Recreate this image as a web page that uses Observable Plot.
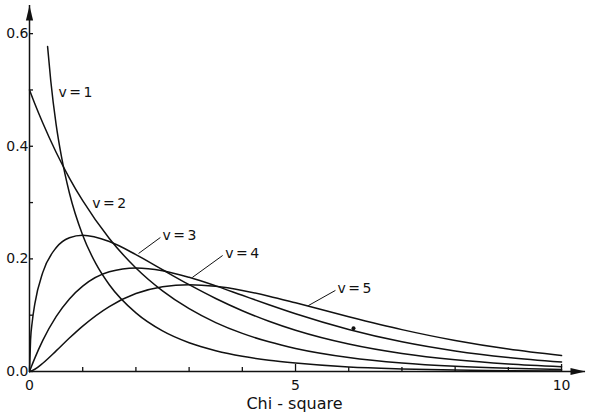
<!DOCTYPE html>
<html>
<head>
<meta charset="utf-8">
<script src="https://cdn.jsdelivr.net/npm/d3@7"></script>
<script src="https://cdn.jsdelivr.net/npm/@observablehq/plot@0.6"></script>
<style>
  html, body { margin: 0; padding: 0; background: #fff; }
  #chart svg { display: block; }
</style>
</head>
<body>
<div id="chart"></div>
<script>
// x samples shared by v = 2..5
const xs = [0, 0.02, 0.05, 0.1, 0.25, 0.5, 0.75, 1, 1.5, 2, 2.5, 3, 3.5, 4, 4.5, 5, 6, 7, 8, 9, 10];
const v2 = [0.5, 0.495, 0.4877, 0.4756, 0.4413, 0.3894, 0.3436, 0.3033, 0.2362, 0.1839, 0.1433, 0.1116, 0.0869, 0.0677, 0.0527, 0.0410, 0.0249, 0.0151, 0.0092, 0.0056, 0.0034];
const v3 = [0, 0.0559, 0.0870, 0.1200, 0.1760, 0.2197, 0.2375, 0.2420, 0.2308, 0.2076, 0.1807, 0.1542, 0.1297, 0.1080, 0.0892, 0.0732, 0.0487, 0.0319, 0.0207, 0.0133, 0.0085];
const v4 = [0, 0.0050, 0.0122, 0.0238, 0.0552, 0.0974, 0.1289, 0.1516, 0.1771, 0.1839, 0.1791, 0.1673, 0.1521, 0.1353, 0.1186, 0.1026, 0.0747, 0.0528, 0.0366, 0.0250, 0.0168];
const v5 = [0, 0.0004, 0.0015, 0.0040, 0.0147, 0.0366, 0.0594, 0.0807, 0.1154, 0.1384, 0.1506, 0.1542, 0.1513, 0.1440, 0.1338, 0.1220, 0.0973, 0.0744, 0.0551, 0.0399, 0.0283];
// v = 1 has its own x samples (starts off the top)
const xs1 = [0.34, 0.4, 0.5, 0.6, 0.75, 1, 1.25, 1.5, 2, 2.5, 3, 3.5, 4, 4.5, 5, 6, 7, 8, 9, 10];
const v1 = [0.577, 0.516, 0.439, 0.382, 0.317, 0.242, 0.191, 0.154, 0.104, 0.072, 0.051, 0.037, 0.027, 0.020, 0.015, 0.008, 0.0046, 0.0026, 0.0015, 0.0009];

// curve labels
const labelText = ["v = 1", "v = 2", "v = 3", "v = 4", "v = 5"];
const labelX = [0.545, 1.18, 2.50, 3.68, 5.79];
const labelY = [0.4955, 0.298, 0.2415, 0.2104, 0.1465];
// leader lines (from curve to label) for v = 3, 4, 5
const leaderX1 = [2.05, 3.06, 5.24];
const leaderY1 = [0.2096, 0.167, 0.117];
const leaderX2 = [2.46, 3.63, 5.75];
const leaderY2 = [0.238, 0.206, 0.144];
// a stray dot in the original print
const speckX = [6.09];
const speckY = [0.077];

// ticks
const yTicksAll = [0, 0.1, 0.2, 0.3, 0.4, 0.5, 0.6];
const yTickLabels = [0, 0.2, 0.4, 0.6];
const xTicksMinor = [1, 2, 3, 4, 6, 7, 8, 9];
const xTicksMajor = [5, 10];
const xTickLabels = [0, 5, 10];
const xTitle = "Chi - square";

const xDomain = [0, 10.45];
const yDomain = [0, 0.65];

const series = [
  {name: "v=1", x: xs1, y: v1},
  {name: "v=2", x: xs, y: v2},
  {name: "v=3", x: xs, y: v3},
  {name: "v=4", x: xs, y: v4},
  {name: "v=5", x: xs, y: v5}
];
const curveRows = series.flatMap(s => s.x.map((x, i) => ({series: s.name, x, y: s.y[i]})));
const labels = labelText.map((t, i) => ({t, x: labelX[i], y: labelY[i]}));
const leaders = leaderX1.map((x, i) => ({x1: x, y1: leaderY1[i], x2: leaderX2[i], y2: leaderY2[i]}));

const arrowUp = {
  draw(ctx) {
    ctx.moveTo(0, 0);
    ctx.lineTo(-3.6, 15);
    ctx.lineTo(3.6, 15);
    ctx.closePath();
  }
};

const chart = Plot.plot({
  width: 589,
  height: 417,
  marginTop: 5,
  marginRight: 4,
  marginBottom: 46,
  marginLeft: 29,
  style: {fontFamily: "DejaVu Sans", fontSize: "14px", background: "#fff", color: "#111"},
  x: {domain: xDomain, axis: null},
  y: {domain: yDomain, axis: null},
  marks: [
    // axis lines
    Plot.ruleX([0], {stroke: "#111", strokeWidth: 1.5}),
    Plot.ruleY([0], {stroke: "#111", strokeWidth: 1.5}),
    // arrowheads
    Plot.dot([0], {x: d => d, frameAnchor: "top", symbol: arrowUp, fill: "#111", stroke: "none"}),
    Plot.dot([0], {y: d => d, frameAnchor: "right", symbol: arrowUp, rotate: 90, fill: "#111", stroke: "none"}),
    // inward ticks
    Plot.axisY({ticks: yTicksAll, tickSize: -4, text: null, stroke: "#111", strokeWidth: 1.3}),
    Plot.axisX({ticks: xTicksMinor, tickSize: -4, text: null, stroke: "#111", strokeWidth: 1.3}),
    Plot.axisX({ticks: xTicksMajor, tickSize: -7, text: null, stroke: "#111", strokeWidth: 1.3}),
    // tick labels
    Plot.axisY({ticks: yTickLabels, tickSize: 0, tickPadding: 1, tickFormat: d3.format(".1f"), fontSize: 14, fill: "#111", label: null}),
    Plot.axisX({ticks: xTickLabels, tickSize: 0, tickPadding: 9, tickFormat: d3.format("d"), fontSize: 14, fill: "#111", label: null}),
    Plot.text([xTitle], {frameAnchor: "bottom", dx: -13, dy: 37, fontSize: 16, fill: "#111", text: d => d}),
    // curves
    Plot.line(curveRows, {x: "x", y: "y", z: "series", curve: "monotone-x", stroke: "#111", strokeWidth: 1.5}),
    // leaders and labels
    Plot.link(leaders, {x1: "x1", y1: "y1", x2: "x2", y2: "y2", stroke: "#111", strokeWidth: 1}),
    Plot.text(labels, {x: "x", y: "y", text: "t", textAnchor: "start", fontSize: 14, fill: "#111"}),
    Plot.dot(speckX.map((x, i) => ({x, y: speckY[i]})), {x: "x", y: "y", r: 2, fill: "#111", stroke: "none"})
  ]
});

document.getElementById("chart").appendChild(chart);
d3.select(chart).selectAll("text").filter(function () { return /^v = /.test(this.textContent); }).style("word-spacing", "-2px");
</script>
</body>
</html>
